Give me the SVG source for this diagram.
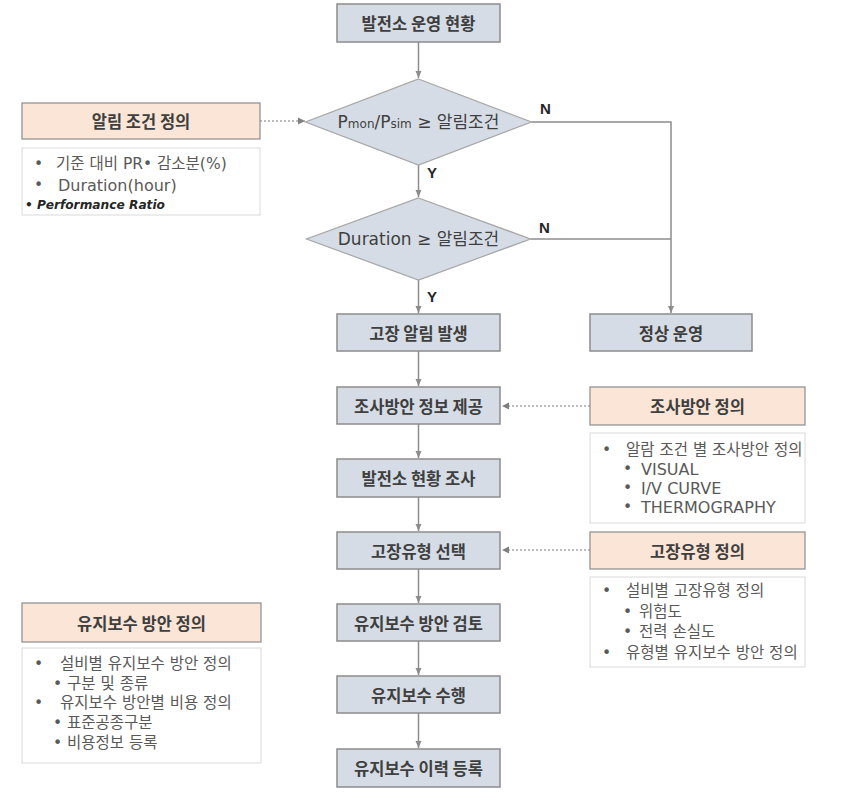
<svg xmlns="http://www.w3.org/2000/svg" width="848" height="792" viewBox="0 0 848 792">
<defs>
<style>
.box{fill:#d6dce5;stroke:#8c8c8c;stroke-width:1.5}
.dia{fill:#d6dce5;stroke:#a6a6a6;stroke-width:1.2}
.hdr{fill:#fbe5d6;stroke:#8c8c8c;stroke-width:1.2}
.body{fill:#ffffff;stroke:#d9d9d9;stroke-width:1}
.t{font-family:"Noto Sans CJK KR","Noto Sans",sans-serif;font-size:16.5px;font-weight:bold;fill:#3f3f3f;text-anchor:middle;dominant-baseline:central}
.dt{font-family:"DejaVu Sans","Noto Sans CJK KR",sans-serif;font-size:17px;fill:#3f3f3f;text-anchor:middle;dominant-baseline:central}
.b{font-family:"DejaVu Sans","Noto Sans CJK KR",sans-serif;font-size:15.5px;fill:#595959;dominant-baseline:central}
.l{font-size:16px}
.lab{font-family:"Liberation Sans",Arial,sans-serif;font-size:15px;font-weight:bold;fill:#262626}
.c{stroke:#8c8c8c;stroke-width:1.5;fill:none}
.d{stroke:#a6a6a6;stroke-width:1.3;stroke-dasharray:2 2;fill:none}
</style>
<marker id="ah" markerUnits="userSpaceOnUse" markerWidth="8" markerHeight="8" refX="7" refY="4" orient="auto">
<path d="M0,1 L7,4 L0,7 z" fill="#8c8c8c"/>
</marker>
<marker id="dh" markerUnits="userSpaceOnUse" markerWidth="8" markerHeight="8" refX="7" refY="4" orient="auto">
<path d="M0,0.5 L7,4 L0,7.5 z" fill="#7f7f7f"/>
</marker>
</defs>
<rect width="848" height="792" fill="#ffffff"/>

<g id="connectors">
<path class="c" d="M418.5,42 V78" marker-end="url(#ah)"/>
<path class="c" d="M418.5,165 V197" marker-end="url(#ah)"/>
<path class="c" d="M418.5,280 V313" marker-end="url(#ah)"/>
<path class="c" d="M418.5,351 V386" marker-end="url(#ah)"/>
<path class="c" d="M418.5,424 V458" marker-end="url(#ah)"/>
<path class="c" d="M418.5,497 V531" marker-end="url(#ah)"/>
<path class="c" d="M418.5,569 V603" marker-end="url(#ah)"/>
<path class="c" d="M418.5,641 V675" marker-end="url(#ah)"/>
<path class="c" d="M418.5,713 V748" marker-end="url(#ah)"/>
<path class="c" d="M531.5,122 H671 V313" marker-end="url(#ah)"/>
<path class="c" d="M530.5,239 H671"/>
<path class="d" d="M260,121 H305" marker-end="url(#dh)"/>
<path class="d" d="M590,406 H502" marker-end="url(#dh)"/>
<path class="d" d="M590,550 H502" marker-end="url(#dh)"/>
<text class="lab" x="540" y="114">N</text>
<text class="lab" x="539" y="233">N</text>
<text class="lab" x="427" y="178">Y</text>
<text class="lab" x="427" y="302">Y</text>
</g>

<g id="n-status">
<rect class="box" x="337" y="4" width="163" height="38"/>
<text class="t" x="418.5" y="23">발전소 운영 현황</text>
</g>

<g id="d-pmon">
<polygon class="dia" points="418.5,79 531.5,122 418.5,165 305.5,122"/>
<text class="dt" x="418.5" y="122">P<tspan font-size="12" dy="2">mon</tspan><tspan dy="-2">/P</tspan><tspan font-size="12" dy="2">sim</tspan><tspan dy="-2"> ≥ 알림조건</tspan></text>
</g>

<g id="d-duration">
<polygon class="dia" points="418.5,198 530.5,239 418.5,280 306.5,239"/>
<text class="dt" x="418.5" y="239">Duration ≥ 알림조건</text>
</g>

<g id="n-alarm">
<rect class="box" x="337" y="314" width="163" height="37"/>
<text class="t" x="418.5" y="332.5">고장 알림 발생</text>
</g>

<g id="n-normal">
<rect class="box" x="590" y="314" width="162" height="37"/>
<text class="t" x="671" y="332.5">정상 운영</text>
</g>

<g id="n-survey-info">
<rect class="box" x="337" y="387" width="163" height="37"/>
<text class="t" x="418.5" y="405.5">조사방안 정보 제공</text>
</g>

<g id="n-survey">
<rect class="box" x="337" y="459" width="163" height="38"/>
<text class="t" x="418.5" y="478">발전소 현황 조사</text>
</g>

<g id="n-faulttype">
<rect class="box" x="337" y="532" width="163" height="37"/>
<text class="t" x="418.5" y="550.5">고장유형 선택</text>
</g>

<g id="n-review">
<rect class="box" x="337" y="604" width="163" height="37"/>
<text class="t" x="418.5" y="622.5">유지보수 방안 검토</text>
</g>

<g id="n-perform">
<rect class="box" x="337" y="676" width="163" height="37"/>
<text class="t" x="418.5" y="694.5">유지보수 수행</text>
</g>

<g id="n-history">
<rect class="box" x="337" y="749" width="163" height="38"/>
<text class="t" x="418.5" y="768">유지보수 이력 등록</text>
</g>

<g id="def-alarm">
<rect class="hdr" x="22" y="103" width="238" height="36"/>
<text class="t" x="141" y="121">알림 조건 정의</text>
<rect class="body" x="22" y="148" width="238" height="67"/>
<text class="b" y="164"><tspan x="34">•</tspan><tspan x="56">기준 대비 PR• 감소분(%)</tspan></text>
<text class="b" y="185"><tspan x="34">•</tspan><tspan x="58" class="l">Duration(hour)</tspan></text>
<text x="25" y="209" font-family="DejaVu Sans,sans-serif" font-size="11.5" font-style="italic" font-weight="bold" fill="#262626" textLength="140" lengthAdjust="spacingAndGlyphs">• Performance Ratio</text>
</g>

<g id="def-survey">
<rect class="hdr" x="590" y="387" width="215" height="38"/>
<text class="t" x="697.5" y="406">조사방안 정의</text>
<rect class="body" x="590" y="433" width="215" height="90"/>
<text class="b" y="450"><tspan x="602">•</tspan><tspan x="626">알람 조건 별 조사방안 정의</tspan></text>
<text class="b" y="469"><tspan x="623">•</tspan><tspan x="641" class="l">VISUAL</tspan></text>
<text class="b" y="488"><tspan x="623">•</tspan><tspan x="641" class="l">I/V CURVE</tspan></text>
<text class="b" y="507"><tspan x="623">•</tspan><tspan x="641" class="l">THERMOGRAPHY</tspan></text>
</g>

<g id="def-fault">
<rect class="hdr" x="590" y="532" width="215" height="37"/>
<text class="t" x="697.5" y="550.5">고장유형 정의</text>
<rect class="body" x="590" y="577" width="215" height="90"/>
<text class="b" y="591"><tspan x="602">•</tspan><tspan x="626">설비별 고장유형 정의</tspan></text>
<text class="b" y="612"><tspan x="623">•</tspan><tspan x="639">위험도</tspan></text>
<text class="b" y="632"><tspan x="623">•</tspan><tspan x="639">전력 손실도</tspan></text>
<text class="b" y="653"><tspan x="602">•</tspan><tspan x="626">유형별 유지보수 방안 정의</tspan></text>
</g>

<g id="def-maint">
<rect class="hdr" x="22" y="603" width="239" height="39"/>
<text class="t" x="141.5" y="622.5">유지보수 방안 정의</text>
<rect class="body" x="22" y="648" width="239" height="115"/>
<text class="b" y="664"><tspan x="34">•</tspan><tspan x="60">설비별 유지보수 방안 정의</tspan></text>
<text class="b" y="684"><tspan x="53">•</tspan><tspan x="67">구분 및 종류</tspan></text>
<text class="b" y="703"><tspan x="34">•</tspan><tspan x="60">유지보수 방안별 비용 정의</tspan></text>
<text class="b" y="723"><tspan x="53">•</tspan><tspan x="67">표준공종구분</tspan></text>
<text class="b" y="743"><tspan x="53">•</tspan><tspan x="67">비용정보 등록</tspan></text>
</g>
</svg>
